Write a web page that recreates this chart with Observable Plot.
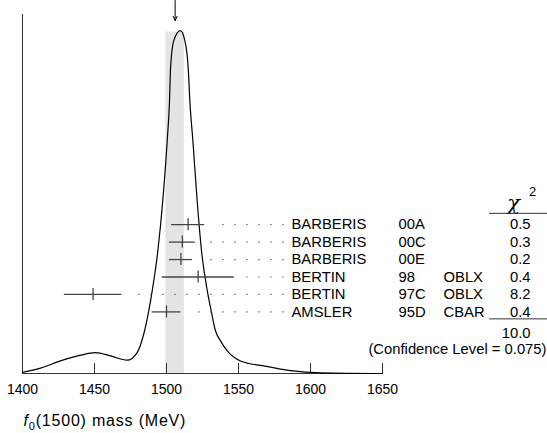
<!DOCTYPE html>
<html><head><meta charset="utf-8">
<script src="https://cdn.jsdelivr.net/npm/d3@7"></script>
<script src="https://cdn.jsdelivr.net/npm/@observablehq/plot@0.6"></script>
<style>body{margin:0;background:#fff}</style>
</head><body><div id="chart"></div>
<script>
// ---- data ----
const authors = ["BARBERIS", "BARBERIS", "BARBERIS", "BERTIN", "BERTIN", "AMSLER"];
const docIds  = ["00A", "00C", "00E", "98", "97C", "95D"];
const techs   = ["", "", "", "OBLX", "OBLX", "CBAR"];
const masses  = [1515, 1511, 1510, 1522, 1449, 1500];
const errors  = [11.5, 9, 8, 25, 20, 10];
const chi2    = ["0.5", "0.3", "0.2", "0.4", "8.2", "0.4"];
const chi2Total = "10.0";
const confLevel = "0.075";
const mean = 1506, meanErr = 6.4;
const tickValues = [1400, 1450, 1500, 1550, 1600, 1650];
const xLabel = "f0(1500) mass (MeV)";
// ideogram curve (relative height)
const curveMass = [1400, 1412.5, 1426.4, 1440.3, 1450.7, 1461.1, 1472.7, 1479.7, 1484.2, 1487.7, 1490.1, 1494.0, 1497.4, 1500.5, 1502.1, 1502.8, 1505.1, 1509.7, 1512.7, 1515.1, 1516.2, 1518.3, 1521.3, 1524.3, 1528.3, 1531.0, 1534.0, 1537.5, 1542.2, 1551.4, 1567.4, 1586.1, 1607, 1650];
const curveDensity = [0.003, 0.015, 0.035, 0.051, 0.058, 0.049, 0.037, 0.059, 0.110, 0.175, 0.231, 0.342, 0.481, 0.649, 0.760, 0.850, 0.928, 0.955, 0.928, 0.850, 0.760, 0.649, 0.481, 0.342, 0.231, 0.175, 0.119, 0.091, 0.063, 0.035, 0.021, 0.008, 0.002, 0.0];

// ---- layout helpers (not data) ----
const rowBase = 0.4146, rowStep = 0.0486;
const rowY = i => rowBase - i * rowStep;
const tickLen = 0.028, markHalf = 0.0167;
const dotsEnd = 1581.6, dotsGap = 5.5;
const arrowTop = 1.039, arrowBottom = 0.983;

const rows = masses.map((m, i) => ({
  author: authors[i], doc: docIds[i], tech: techs[i],
  mass: m, err: errors[i], chi2: chi2[i], y: rowY(i)
}));
const curve = curveMass.map((m, i) => ({mass: m, density: curveDensity[i]}));
const font = "'Liberation Sans', Arial, Helvetica, sans-serif";
const T = {frameAnchor: "right", fontSize: 14.8, fill: "#000", lineAnchor: "middle"};

const chart = Plot.plot({
  width: 547, height: 433,
  marginLeft: 22, marginRight: 165, marginTop: 14, marginBottom: 60,
  style: {fontFamily: font, fontSize: "14px", background: "#fff", overflow: "visible"},
  x: {domain: [1400, 1650]},
  y: {domain: [0, 1], axis: null},
  marks: [
    Plot.rect([0], {x1: mean - meanErr, x2: mean + meanErr, y1: 0, y2: d3.max(curveDensity) - 0.004, fill: "#e4e4e4"}),
    Plot.ruleX([1400], {stroke: "#333", strokeWidth: 1}),
    Plot.ruleY([0], {stroke: "#333", strokeWidth: 1}),
    Plot.ruleX(tickValues, {x: d => d, y1: 0, y2: tickLen, stroke: "#333"}),
    Plot.axisX({ticks: tickValues, tickSize: 0, tickPadding: 11, tickFormat: "d", fontSize: 14, fill: "#000", label: null}),
    Plot.line(curve, {x: "mass", y: "density", curve: "monotone-x", stroke: "#000", strokeWidth: 1.2}),
    Plot.arrow([mean], {x1: d => d, x2: d => d, y1: arrowTop, y2: arrowBottom, stroke: "#000", strokeWidth: 1, headLength: 7, headAngle: 50}),
    // dotted leaders
    Plot.ruleY(rows, {y: "y", x1: dotsEnd, x2: d => d.mass + d.err + dotsGap, stroke: "#555", strokeWidth: 1.2, strokeDasharray: "1.2 10.8"}),
    // error bars
    Plot.ruleY(rows, {y: "y", x1: d => d.mass - d.err, x2: d => d.mass + d.err, stroke: "#444", strokeWidth: 1.3}),
    Plot.ruleX(rows, {x: "mass", y1: d => d.y - markHalf, y2: d => d.y + markHalf, stroke: "#444", strokeWidth: 1.3}),
    // text columns
    Plot.text(rows, {...T, y: "y", text: "author", dx: -91, textAnchor: "start"}),
    Plot.text(rows, {...T, y: "y", text: "doc", dx: 16, textAnchor: "start"}),
    Plot.text(rows, {...T, y: "y", text: "tech", dx: 61, textAnchor: "start"}),
    Plot.text(rows, {...T, y: "y", text: "chi2", dx: 148, textAnchor: "end"}),
    Plot.text(["χ"], {...T, y: rowY(-1.25), text: d => d, dx: 131, fontSize: 21, fontStyle: "italic", fontFamily: "'DejaVu Serif', serif", textAnchor: "middle"}),
    Plot.text(["2"], {...T, y: rowY(-1.9), text: d => d, dx: 150, fontSize: 13, textAnchor: "middle"}),
    Plot.ruleY([rowY(-0.65), rowY(5.4)], {stroke: "#333", insetLeft: 467, insetRight: -165}),
    Plot.text([chi2Total], {...T, y: rowY(6.25), text: d => d, dx: 148, textAnchor: "end"}),
    Plot.text([`(Confidence Level = ${confLevel})`], {...T, y: rowY(7.15), text: d => d, dx: 164, textAnchor: "end"}),
    Plot.text([xLabel], {frameAnchor: "bottom-left", text: d => d, dy: 52, dx: 1, textAnchor: "start", fontSize: 16, fill: "#000"})
  ]
});
document.getElementById("chart").appendChild(chart);

// format the axis title: italic f, subscript 0
d3.select(chart).selectAll("text").filter(function() { return this.textContent === xLabel; })
  .each(function() {
    const t = d3.select(this);
    t.text(null).style("letter-spacing", "0.8px");
    t.append("tspan").attr("font-style", "italic").text("f");
    t.append("tspan").attr("font-size", "11px").attr("dy", "4").text("0");
    t.append("tspan").attr("dy", "-4").text("(1500) mass (MeV)");
  });
</script>
</body></html>
